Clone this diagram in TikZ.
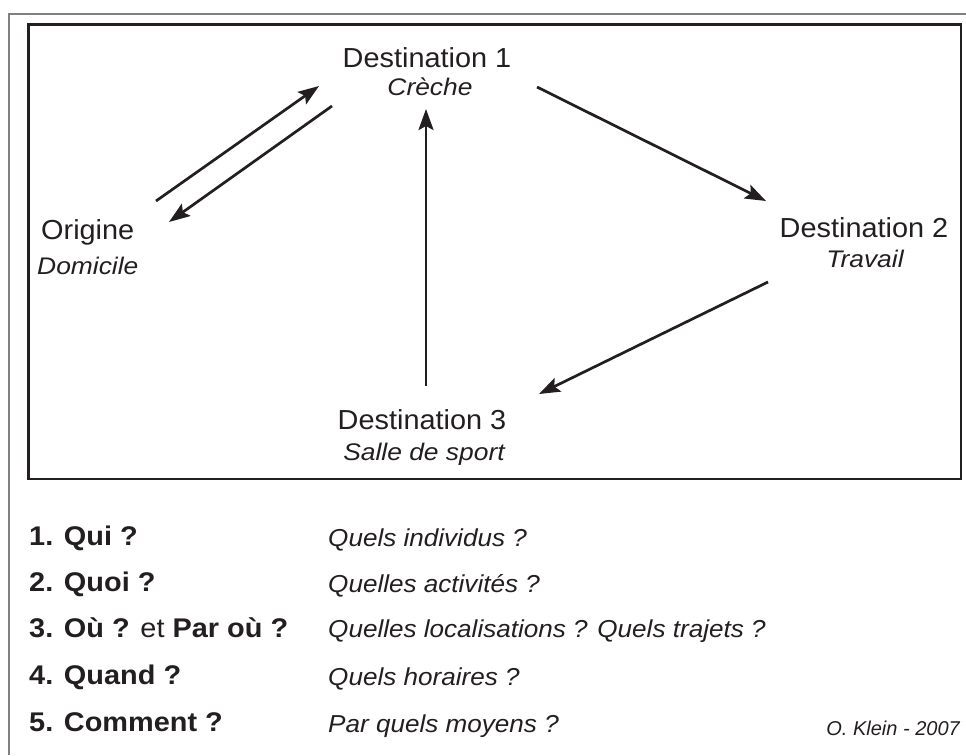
\documentclass[tikz,border=0pt]{standalone}
\usepackage{fontspec}
\setmainfont{Liberation Sans}
\usetikzlibrary{arrows.meta}
\definecolor{ink}{HTML}{231F20}
\definecolor{framegray}{HTML}{808080}
\newcommand\xlbl[1]{\scalebox{1.05}[1]{#1}}
\newcommand\xsub[1]{\scalebox{1.1}[1]{#1}}
\newcommand\xqq[1]{\scalebox{1.07}[1]{#1}}
\newcommand\xans[1]{\scalebox{1.065}[1]{#1}}
\begin{document}
\begin{tikzpicture}[x=1pt,y=-1pt,
 lbl/.style={inner sep=0pt, anchor=base, text=ink, font=\fontsize{27.5}{30}\selectfont},
 sub/.style={inner sep=0pt, anchor=base, text=ink, font=\fontsize{24}{26}\selectfont\itshape},
 qq/.style={inner sep=0pt, anchor=base west, text=ink, font=\fontsize{27}{29}\selectfont\bfseries},
 ans/.style={inner sep=0pt, anchor=base west, text=ink, font=\fontsize{24.5}{26}\selectfont\itshape},
 arr/.style={draw=ink, line width=2.7pt, -{Stealth[length=21pt,width=15pt,inset=4pt]}}]
\useasboundingbox (0,0) rectangle (966,755);
\fill[white] (0,0) rectangle (966,755);
\draw[framegray, line width=1.2pt] (9,755) -- (9,14) -- (966,14);
\draw[ink, line width=2.2pt] (28.5,24.5) rectangle (961,479);

% labels
\node[lbl] (d1) at (427,67) {\xlbl{Destination 1}};
\node[sub] (d1s) at (430,95) {\xsub{Crèche}};
\node[lbl, anchor=base west] (o) at (41,239) {\xlbl{Origine}};
\node[sub, anchor=base west] (os) at (37,274) {\xsub{Domicile}};
\node[lbl] (d2) at (864,237) {\xlbl{Destination 2}};
\node[sub] (d2s) at (865,267) {\xsub{Travail}};
\node[lbl] (d3) at (422,429) {\xlbl{Destination 3}};
\node[sub] (d3s) at (424,460) {\xsub{Salle de sport}};

% arrow end points
\coordinate (a1s) at (156,201);
\coordinate (a1e) at (319,86);
\coordinate (a2s) at (332,106);
\coordinate (a2e) at (169,222);
\coordinate (a3s) at (537,87);
\coordinate (a3e) at (766,201);
\coordinate (a4s) at (768,282);
\coordinate (a4e) at (539,394);
\coordinate (a5s) at (426,386);
\coordinate (a5e) at (426,109);

\draw[arr] (a1s) -- (a1e);
\draw[arr] (a2s) -- (a2e);
\draw[arr] (a3s) -- (a3e);
\draw[arr] (a4s) -- (a4e);
\draw[arr] (a5s) -- (a5e);

% questions
\node[qq] (q1) at (29,545) {\xqq{1. Qui ?}};
\node[qq] (q2) at (29,591) {\xqq{2. Quoi ?}};
\node[qq] (q3) at (29,637) {\xqq{3. Où ? \mdseries et \bfseries Par où ?}};
\node[qq] (q4) at (29,684) {\xqq{4. Quand ?}};
\node[qq] (q5) at (29,731) {\xqq{5. Comment ?}};
\node[ans] (r1) at (328,546) {\xans{Quels individus ?}};
\node[ans] (r2) at (328,592) {\xans{Quelles activités ?}};
\node[ans] (r3) at (328,637) {\xans{Quelles localisations ? Quels trajets ?}};
\node[ans] (r4) at (328,685) {\xans{Quels horaires ?}};
\node[ans] (r5) at (328,732) {\xans{Par quels moyens ?}};
\node[inner sep=0pt, anchor=base east, text=ink, font=\fontsize{20}{22}\selectfont\itshape] (auth) at (960,735) {O. Klein - 2007};
\end{tikzpicture}
\end{document}
